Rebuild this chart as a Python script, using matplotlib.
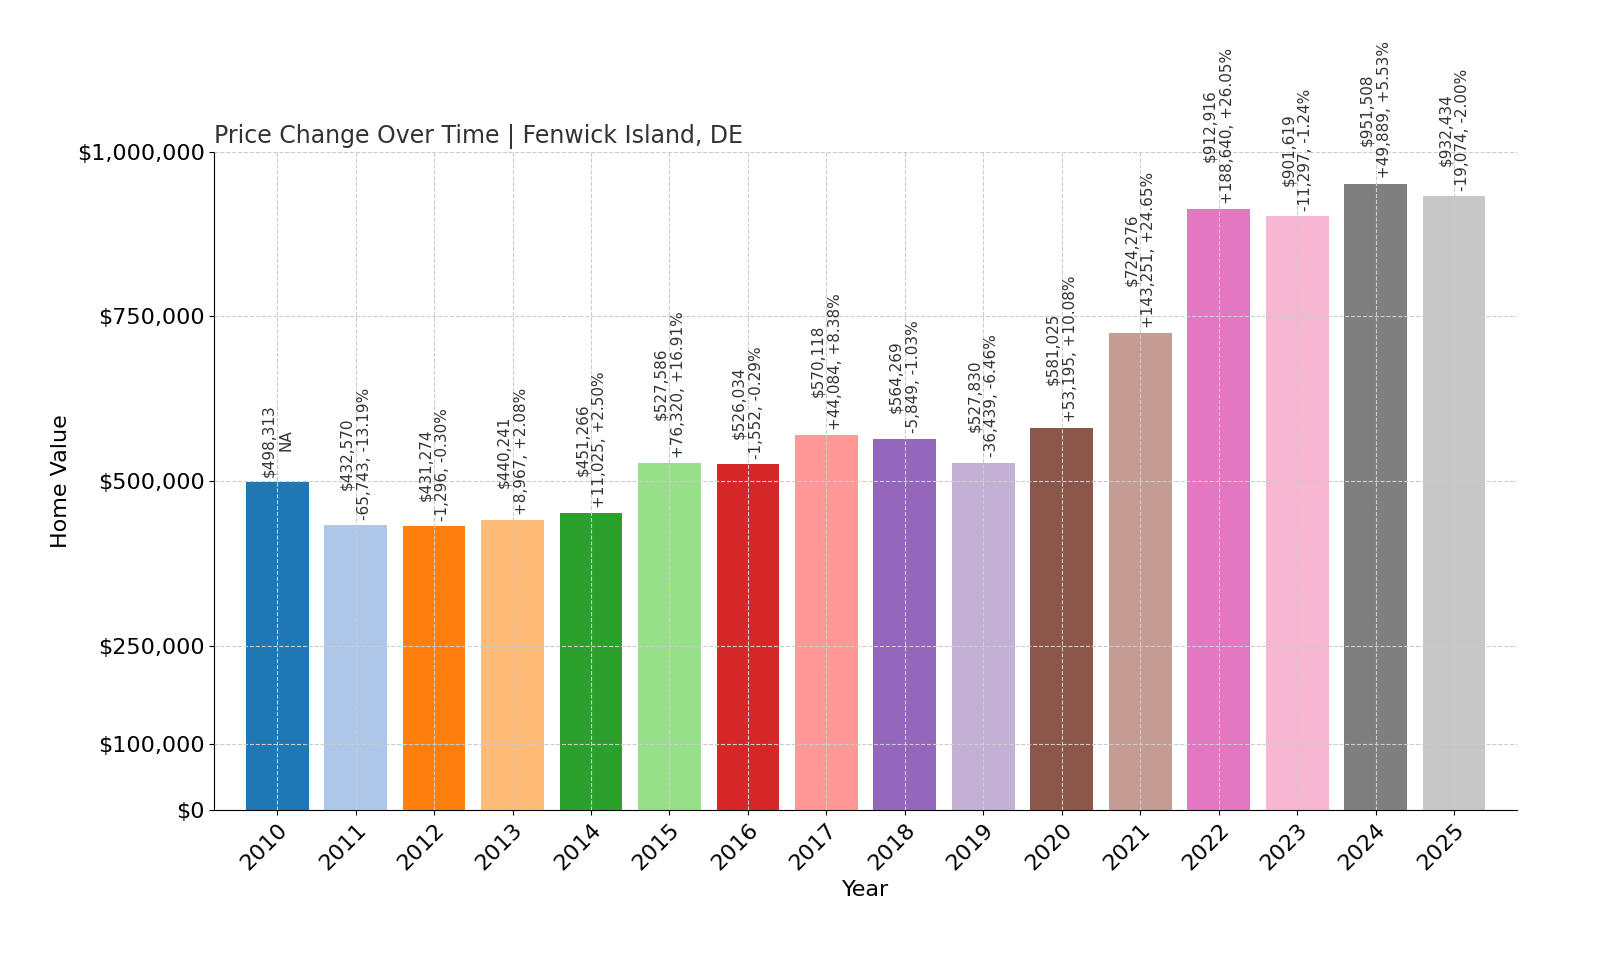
import matplotlib
matplotlib.use("Agg")
import matplotlib.pyplot as plt

years = ["2010","2011","2012","2013","2014","2015","2016","2017","2018","2019","2020","2021","2022","2023","2024","2025"]
values = [498313,432570,431274,440241,451266,527586,526034,570118,564269,527830,581025,724276,912916,901619,951508,932434]
changes = ["NA","-65,743, -13.19%","-1,296, -0.30%","+8,967, +2.08%","+11,025, +2.50%","+76,320, +16.91%",
           "-1,552, -0.29%","+44,084, +8.38%","-5,849, -1.03%","-36,439, -6.46%","+53,195, +10.08%",
           "+143,251, +24.65%","+188,640, +26.05%","-11,297, -1.24%","+49,889, +5.53%","-19,074, -2.00%"]
yticks = [0,100000,250000,500000,750000,1000000]

fig = plt.figure(figsize=(16,9.6), dpi=100)
ax = fig.add_axes([0.134,0.156,0.814,0.686])
cmap = plt.get_cmap("tab20")
x = range(len(years))
ax.bar(x, values, width=0.8, color=[cmap(i) for i in x], zorder=2)
for i,v in zip(x, values):
    ax.text(i, v+8000, f"${v:,}\n{changes[i]}", rotation=90, ha="center", va="bottom",
            fontsize=11, color="#333333", zorder=3)
ax.set_xticks(list(x))
ax.set_xticklabels(years, rotation=45, ha="right", rotation_mode="anchor", fontsize=16)
ax.set_yticks(yticks)
ax.set_yticklabels([f"${t:,}" for t in yticks], fontsize=16)
ax.set_ylim(0,1000000)
ax.set_xlim(-0.5-0.3, len(years)-0.5+0.3)
ax.grid(True, linestyle="--", color="#cccccc", zorder=0)
ax.set_axisbelow(False)
for s in ["top","right"]:
    ax.spines[s].set_visible(False)
ax.set_xlabel("Year", fontsize=16)
ax.set_ylabel("Home Value", fontsize=16)
ax.set_title("Price Change Over Time | Fenwick Island, DE", loc="left", fontsize=17, color="#333333")
fig.savefig("out.png")
